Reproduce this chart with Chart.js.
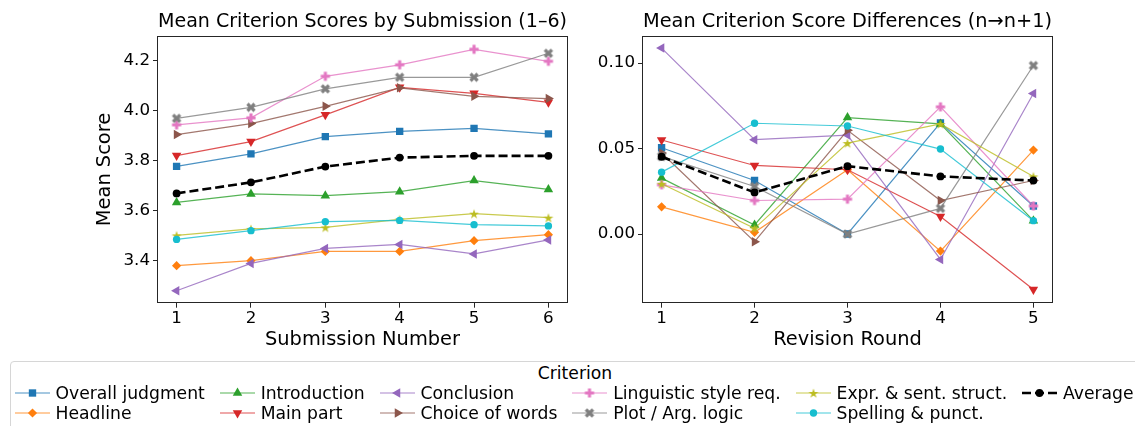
<!DOCTYPE html>
<html>
<head>
<meta charset="utf-8">
<script src="https://cdn.jsdelivr.net/npm/chart.js@4.4.0/dist/chart.umd.min.js"></script>
<style>
    body { margin: 0; background: #fff; width: 1135px; height: 426px; overflow: hidden; position: relative; }
    #wrap-scores { position: absolute; left: 0; top: 0; }
    #wrap-diffs { position: absolute; left: 575px; top: 0; }
    #legenda {
        position: absolute; left: 10px; top: 361px; width: 1128px; height: 80px;
        border: 1px solid #d6d6d6; border-radius: 4px;
        font-family: 'DejaVu Sans'; font-size: 17.2px; color: #000;
    }
    #legenda .titulo { position: absolute; top: 1px; left: 0; width: 100%; text-align: center; line-height: 20px; }
    #legenda-itens { position: absolute; top: 21px; left: 3.5px; display: flex; column-gap: 14.8px; }
    .coluna { display: flex; flex-direction: column; }
    .item { display: flex; align-items: center; height: 20px; white-space: nowrap; }
    .item canvas { margin-right: 6px; }
</style>
</head>
<body>
<div id="wrap-scores"><canvas id="grafico-scores" width="575" height="358"></canvas></div>
<div id="wrap-diffs"><canvas id="grafico-diffs" width="560" height="358"></canvas></div>
<div id="legenda">
    <div class="titulo">Criterion</div>
    <div id="legenda-itens"></div>
</div>
<script>
const criterios = [
    'Overall judgment', 'Headline', 'Introduction', 'Main part', 'Conclusion',
    'Choice of words', 'Linguistic style req.', 'Plot / Arg. logic',
    'Expr. & sent. struct.', 'Spelling & punct.'
];
const rotuloMedia = 'Average';

const submissoes = [1, 2, 3, 4, 5, 6];
const rodadas = [1, 2, 3, 4, 5];
const ticksScore = [3.4, 3.6, 3.8, 4.0, 4.2];
const ticksDiff = [0.00, 0.05, 0.10];

// mean scores per submission (1-6)
const scoreOverall = [3.777, 3.827, 3.896, 3.917, 3.929, 3.907];
const scoreHeadline = [3.380, 3.400, 3.437, 3.437, 3.480, 3.504];
const scoreIntro = [3.633, 3.667, 3.660, 3.676, 3.720, 3.685];
const scoreMain = [3.820, 3.876, 3.983, 4.093, 4.069, 4.033];
const scoreConclusion = [3.280, 3.389, 3.449, 3.465, 3.427, 3.483];
const scoreWords = [3.904, 3.948, 4.017, 4.091, 4.057, 4.048];
const scoreStyle = [3.943, 3.971, 4.137, 4.183, 4.245, 4.197];
const scoreLogic = [3.969, 4.013, 4.087, 4.133, 4.133, 4.229];
const scoreExpr = [3.501, 3.527, 3.533, 3.565, 3.588, 3.572];
const scoreSpelling = [3.485, 3.520, 3.556, 3.561, 3.544, 3.539];
const scoreAverage = [3.669, 3.713, 3.776, 3.812, 3.819, 3.819];

// differences n -> n+1
const diffOverall = [0.0505, 0.0313, 0.0000, 0.0650, 0.0164];
const diffHeadline = [0.0159, 0.0010, 0.0376, -0.0100, 0.0491];
const diffIntro = [0.0327, 0.0053, 0.0681, 0.0644, 0.0078];
const diffMain = [0.0550, 0.0401, 0.0376, 0.0102, -0.0325];
const diffConclusion = [0.1088, 0.0552, 0.0579, -0.0149, 0.0822];
const diffWords = [0.0474, -0.0045, 0.0607, 0.0196, 0.0313];
const diffStyle = [0.0288, 0.0196, 0.0204, 0.0744, 0.0164];
const diffLogic = [0.0454, 0.0278, 0.0000, 0.0150, 0.0986];
const diffExpr = [0.0294, 0.0033, 0.0532, 0.0644, 0.0337];
const diffSpelling = [0.0362, 0.0648, 0.0632, 0.0497, 0.0078];
const diffAverage = [0.0452, 0.0243, 0.0397, 0.0337, 0.0313];

const seriesScore = [scoreOverall, scoreHeadline, scoreIntro, scoreMain, scoreConclusion,
    scoreWords, scoreStyle, scoreLogic, scoreExpr, scoreSpelling];
const seriesDiff = [diffOverall, diffHeadline, diffIntro, diffMain, diffConclusion,
    diffWords, diffStyle, diffLogic, diffExpr, diffSpelling];

const cores = ['#1f77b4', '#ff7f0e', '#2ca02c', '#d62728', '#9467bd',
    '#8c564b', '#e377c2', '#7f7f7f', '#bcbd22', '#17becf'];
const marcadores = ['rect', 'rectRot', 'triangle', 'triangle', 'triangle',
    'triangle', 'plus', 'x', 'star', 'circle'];
const rotacoes = [0, 0, 0, 180, 270, 90, 0, 0, 0, 0];
const raios = { rect: 5.2, rectRot: 4.6, triangle: 5.5, circle: 3.7 };

Chart.defaults.font.family = 'DejaVu Sans';
Chart.defaults.color = '#000';

function comAlpha(hex, a) {
    const n = parseInt(hex.slice(1), 16);
    return `rgba(${(n >> 16) & 255}, ${(n >> 8) & 255}, ${n & 255}, ${a})`;
}

// marcadores preenchidos do matplotlib (P, X, *) desenhados num canvas pequeno
function criarMarcador(tipo, cor) {
    const c = document.createElement('canvas');
    c.width = 14;
    c.height = 14;
    const ctx = c.getContext('2d');
    ctx.fillStyle = cor;
    ctx.translate(7, 7);
    if (tipo === 'plus' || tipo === 'x') {
        const s = tipo === 'plus' ? 4.6 : 5.0;
        const t = s / 3;
        if (tipo === 'x') ctx.rotate(Math.PI / 4);
        ctx.beginPath();
        ctx.moveTo(-t, -s); ctx.lineTo(t, -s); ctx.lineTo(t, -t); ctx.lineTo(s, -t);
        ctx.lineTo(s, t); ctx.lineTo(t, t); ctx.lineTo(t, s); ctx.lineTo(-t, s);
        ctx.lineTo(-t, t); ctx.lineTo(-s, t); ctx.lineTo(-s, -t); ctx.lineTo(-t, -t);
        ctx.closePath();
        ctx.fill();
    } else if (tipo === 'star') {
        const R = 5.2, r = R * 0.38;
        ctx.beginPath();
        for (let i = 0; i < 10; i++) {
            const ang = -Math.PI / 2 + i * Math.PI / 5;
            const rr = i % 2 === 0 ? R : r;
            ctx.lineTo(Math.cos(ang) * rr, Math.sin(ang) * rr + 0.6);
        }
        ctx.closePath();
        ctx.fill();
    }
    return c;
}

function estiloSerie(i) {
    const tipo = marcadores[i];
    const imagem = (tipo === 'plus' || tipo === 'x' || tipo === 'star');
    return {
        borderColor: comAlpha(cores[i], 0.8),
        borderWidth: 1.2,
        pointStyle: imagem ? criarMarcador(tipo, cores[i]) : tipo,
        pointRadius: imagem ? 5 : raios[tipo],
        pointRotation: rotacoes[i],
        pointBackgroundColor: cores[i],
        pointBorderWidth: 0,
        tension: 0,
        fill: false
    };
}

function montarDatasets(xs, series, media) {
    const total = series.length + 1;
    const datasets = series.map((valores, i) => Object.assign({
        label: criterios[i],
        data: xs.map((x, j) => ({ x: x, y: valores[j] })),
        order: total - i
    }, estiloSerie(i)));
    datasets.push({
        label: rotuloMedia,
        data: xs.map((x, j) => ({ x: x, y: media[j] })),
        order: 1,
        borderColor: '#000',
        borderWidth: 2.6,
        borderDash: [9, 4],
        pointStyle: 'circle',
        pointRadius: 3.9,
        pointBackgroundColor: '#000',
        pointBorderWidth: 0,
        tension: 0,
        fill: false
    });
    return datasets;
}

const moldura = {
    id: 'moldura',
    afterDraw(chart) {
        const { ctx, chartArea: a } = chart;
        ctx.save();
        ctx.strokeStyle = '#262626';
        ctx.lineWidth = 1;
        ctx.strokeRect(Math.round(a.left) - 0.5, Math.round(a.top) + 0.5,
            Math.round(a.right - a.left) + 1, Math.round(a.bottom - a.top));
        ctx.restore();
    }
};

function opcoes(cfg) {
    const fonteTick = { size: 16.7 };
    const fonteTitulo = { size: 19.4, weight: 'normal' };
    return {
        responsive: false,
        animation: false,
        layout: { padding: { left: 0, right: cfg.padDireita, top: 0, bottom: 0 } },
        plugins: {
            legend: { display: false },
            tooltip: { enabled: false },
            title: {
                display: true,
                text: cfg.titulo,
                fullSize: false,
                font: fonteTitulo,
                color: '#000',
                padding: { top: 10, bottom: 3 }
            }
        },
        scales: {
            x: {
                type: 'linear',
                min: cfg.xMin,
                max: cfg.xMax,
                afterBuildTicks: s => { s.ticks = cfg.xTicks.map(v => ({ value: v })); },
                afterFit: s => { s.height = 358 - 302.7; },
                ticks: { font: fonteTick, padding: 1, color: '#000', callback: v => String(v) },
                grid: { drawOnChartArea: false, drawTicks: true, tickLength: 5, color: '#262626' },
                border: { display: false },
                title: { display: true, text: cfg.tituloX, font: fonteTitulo, color: '#000', padding: { top: 0, bottom: 6 } }
            },
            y: {
                type: 'linear',
                min: cfg.yMin,
                max: cfg.yMax,
                afterBuildTicks: s => { s.ticks = cfg.yTicks.map(v => ({ value: v })); },
                afterFit: s => { s.width = cfg.larguraY; },
                ticks: { font: fonteTick, padding: 3, color: '#000', callback: v => v.toFixed(cfg.casas) },
                grid: { drawOnChartArea: false, drawTicks: true, tickLength: 5, color: '#262626' },
                border: { display: false },
                title: {
                    display: !!cfg.tituloY, text: cfg.tituloY || '', font: fonteTitulo, color: '#000',
                    padding: { top: 93, bottom: 0 }
                }
            }
        }
    };
}

const graficoScores = new Chart(document.getElementById('grafico-scores'), {
    type: 'line',
    data: { datasets: montarDatasets(submissoes, seriesScore, scoreAverage) },
    options: opcoes({
        titulo: 'Mean Criterion Scores by Submission (1–6)',
        tituloX: 'Submission Number',
        tituloY: 'Mean Score',
        xMin: 0.75, xMax: 6.25, xTicks: submissoes,
        yMin: 3.232, yMax: 4.297, yTicks: ticksScore,
        casas: 1, larguraY: 158, padDireita: 8
    }),
    plugins: [moldura]
});

const graficoDiffs = new Chart(document.getElementById('grafico-diffs'), {
    type: 'line',
    data: { datasets: montarDatasets(rodadas, seriesDiff, diffAverage) },
    options: opcoes({
        titulo: 'Mean Criterion Score Differences (n→n+1)',
        tituloX: 'Revision Round',
        tituloY: null,
        xMin: 0.8, xMax: 5.2, xTicks: rodadas,
        yMin: -0.0402, yMax: 0.1157, yTicks: ticksDiff,
        casas: 2, larguraY: 68, padDireita: 83
    }),
    plugins: [moldura]
});

function desenharHandle(ds) {
    const c = document.createElement('canvas');
    c.width = 35;
    c.height = 20;
    const ctx = c.getContext('2d');
    ctx.strokeStyle = ds.borderColor;
    ctx.lineWidth = ds.borderWidth;
    ctx.setLineDash(ds.borderDash || []);
    ctx.beginPath();
    ctx.moveTo(0, 10);
    ctx.lineTo(35, 10);
    ctx.stroke();
    ctx.setLineDash([]);
    ctx.fillStyle = ds.pointBackgroundColor;
    ctx.strokeStyle = ds.pointBackgroundColor;
    Chart.helpers.drawPoint(ctx, {
        pointStyle: ds.pointStyle,
        rotation: ds.pointRotation || 0,
        radius: ds.pointRadius,
        borderWidth: 0
    }, 17.5, 10);
    return c;
}

function montarLegenda(datasets) {
    const alvo = document.getElementById('legenda-itens');
    for (let i = 0; i < datasets.length; i += 2) {
        const coluna = document.createElement('div');
        coluna.className = 'coluna';
        datasets.slice(i, i + 2).forEach(ds => {
            const item = document.createElement('div');
            item.className = 'item';
            item.appendChild(desenharHandle(ds));
            const txt = document.createElement('span');
            txt.textContent = ds.label;
            item.appendChild(txt);
            coluna.appendChild(item);
        });
        alvo.appendChild(coluna);
    }
}

montarLegenda(graficoScores.data.datasets);
</script>
</body>
</html>
